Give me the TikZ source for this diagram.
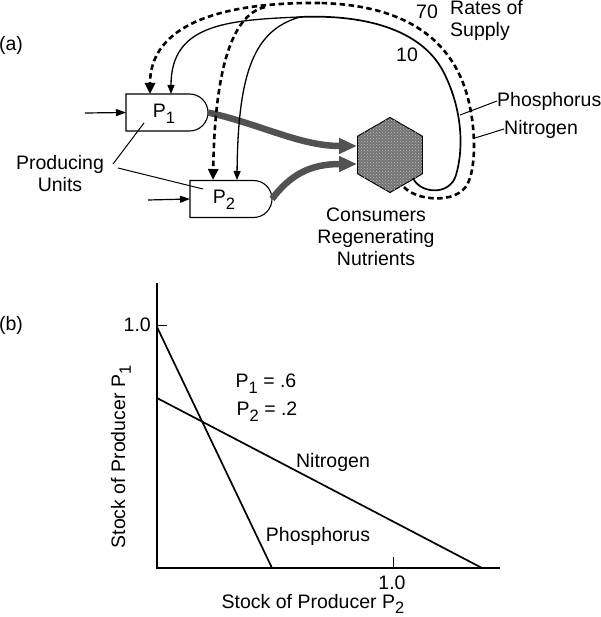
\documentclass[tikz,border=0pt]{standalone}
\usepackage{fontspec}
\setmainfont{Liberation Sans}
\usetikzlibrary{arrows.meta,shapes.misc,shapes.geometric,patterns}
\newcommand\sbs[1]{\raisebox{-0.55ex}{\fontsize{16.5}{16.5}\selectfont #1}}
\begin{document}
\begin{tikzpicture}[x=1pt,y=-1pt,font=\fontsize{19.5}{22}\selectfont,
  pbox/.style={draw,line width=1.1pt,rounded rectangle,rounded rectangle left arc=none,minimum width=82pt,minimum height=37pt,inner sep=0pt,outer sep=0pt},
  thinline/.style={line width=1pt},
  inarrow/.style={line width=1.2pt,-{Triangle[length=10pt,width=7pt]}},
  phos/.style={line width=1.3pt,-{Triangle[length=9pt,width=7pt]}},
  nitro/.style={line width=2.6pt,dash pattern=on 5.5pt off 3.5pt,-{Triangle[length=11pt,width=10pt]}},
  nitroplain/.style={line width=2.6pt,dash pattern=on 5.5pt off 3.5pt},
  flow/.style={line width=6.5pt,black!68,-{Triangle[length=18pt,width=15pt]}},
  axis/.style={line width=2.6pt},
  curveline/.style={line width=1.7pt},
  txt/.style={inner sep=0pt}]
\useasboundingbox (0,0) rectangle (600,617);

% ---------- (a) ----------
\node[txt] (la) at (11,45) {(a)};

\node[pbox] (P1) at (167,112.5) {};
\node[txt] (P1t) at (164,114) {P\sbs{1}};
\node[pbox] (P2) at (231,199) {};
\node[txt] (P2t) at (224,200) {P\sbs{2}};

\coordinate (in1) at (85,113);
\coordinate (in2) at (148,200);
\draw[inarrow] (in1) -- (P1.west);
\draw[inarrow] (in2) -- (P2.west);

\node[txt,align=center] (prod) at (60,174) {Producing\\Units};
\coordinate (pl1) at (144,123);
\coordinate (pl2) at (203,189);
\draw[thinline] (113,164) -- (pl1);
\draw[thinline] (118,168) -- (pl2);

\node[regular polygon,regular polygon sides=6,shape border rotate=30,minimum size=75pt,inner sep=0pt,outer sep=0pt,draw,line width=1pt,fill=black!55] (hex) at (390,155) {};
\node[regular polygon,regular polygon sides=6,shape border rotate=30,minimum size=75pt,inner sep=0pt,outer sep=0pt,pattern=crosshatch dots,pattern color=black!25] (hexp) at (390,155) {};

\node[txt,align=center] (cons) at (376,237) {Consumers\\Regenerating\\Nutrients};

% flows to consumers
\coordinate (h1) at (357,146);
\coordinate (h2) at (357,164);
\draw[flow] (P1.east) .. controls (260,124) and (300,146) .. (h1);
\draw[flow] (P2.east) .. controls (290,175) and (310,164) .. (h2);

% phosphorus loop (solid)
\coordinate (hs) at (413,178);
\coordinate (top1) at (300,17);
\coordinate (a1) at (171,94);
\coordinate (a2) at (237,180);
\draw[curveline] (hs) .. controls (420,194) and (450,196) .. (456,175)
  .. controls (464,148) and (462,110) .. (445,75)
  .. controls (425,32) and (370,14) .. (top1);
\draw[phos] (top1) .. controls (225,20) and (171,25) .. (a1);
\draw[phos] (top1) .. controls (255,30) and (238,70) .. (a2);

% nitrogen loop (dashed)
\coordinate (hn) at (404,187);
\coordinate (top2) at (320,3);
\coordinate (top3) at (265,7);
\coordinate (b1) at (150,94);
\coordinate (b2) at (213,180);
\draw[nitroplain] (hn) .. controls (415,200) and (455,205) .. (467,185)
  .. controls (478,165) and (476,112) .. (461,78)
  .. controls (442,35) and (400,5) .. (top2);
\draw[nitro] (top2) .. controls (220,2) and (150,25) .. (b1);
\draw[nitro] (top3) .. controls (235,14) and (215,60) .. (b2);

\node[txt] (n70) at (427,12) {70};
\node[txt] (n10) at (407,55) {10};
\node[txt,align=left,anchor=west] (rates) at (450,20) {Rates of\\Supply};
\node[txt,anchor=west] (phl) at (497,101) {Phosphorus};
\node[txt,anchor=west] (nil) at (504,129) {Nitrogen};
\coordinate (pp) at (460,115);
\coordinate (np) at (475,138);
\draw[thinline] (pp) -- (phl.west);
\draw[thinline] (np) -- (nil.west);

% ---------- (b) ----------
\node[txt] (lb) at (11,325) {(b)};
\coordinate (O) at (157,568);
\coordinate (ytop) at (157,283);
\coordinate (xend) at (500,568);
\draw[axis] (ytop) -- (157,569.3);
\draw[axis] (155.7,568) -- (xend);
\draw[thinline] (157,325) -- (167,325);
\draw[thinline] (393,568) -- (393,557);
\node[txt,anchor=east] (y1) at (151,325) {1.0};
\node[txt] (x1) at (392,583) {1.0};
\node[txt] (xl) at (313,604) {Stock of Producer P\sbs{2}};
\node[txt,rotate=90] (yl) at (121,457) {Stock of Producer P\sbs{1}};

\coordinate (pa) at (157,327);
\coordinate (pb) at (272,568);
\coordinate (na) at (157,398);
\coordinate (nb) at (482,568);
\draw[curveline] (pa) -- (pb);
\draw[curveline] (na) -- (nb);

\node[txt] (v1) at (266,384) {P\sbs{1} = .6};
\node[txt] (v2) at (267,412) {P\sbs{2} = .2};
\node[txt] (nl2) at (333,462) {Nitrogen};
\node[txt] (pl3) at (318,536) {Phosphorus};
\end{tikzpicture}
\end{document}
